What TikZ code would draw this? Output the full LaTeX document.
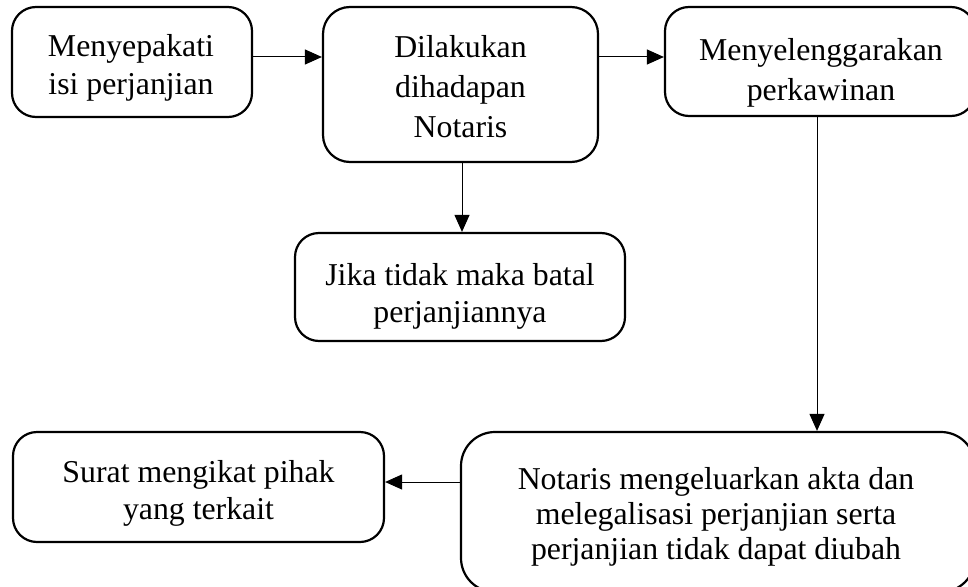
\documentclass[tikz,border=0pt]{standalone}
\usepackage{fontspec}
\setmainfont{Liberation Serif}
\usetikzlibrary{arrows.meta,calc}
\begin{document}
\begin{tikzpicture}[x=1pt,y=-1pt,
  box/.style={draw,line width=2.2pt,rounded corners=24pt,inner sep=0pt},
  txt/.style={align=center,inner sep=0pt,font=\fontsize{31.8}{#1}\selectfont},
  txt/.default=38,
  arr/.style={line width=1pt,-{Triangle[length=17pt,width=15pt]}}]
\useasboundingbox (0,0) rectangle (968,586);
\clip (0,0) rectangle (968,586);
\fill[white] (0,0) rectangle (968,586);

% frames
\node[box,minimum width=240pt,minimum height=110pt] (b1) at (132,62) {};
\node[box,minimum width=275pt,minimum height=155pt,rounded corners=27pt] (b2) at (460.5,84.5) {};
\node[box,minimum width=310pt,minimum height=109pt] (b3) at (820,61.5) {};
\node[box,minimum width=330pt,minimum height=108pt] (b4) at (460,287) {};
\node[box,minimum width=514pt,minimum height=160pt,rounded corners=34pt] (b5) at (718,512) {};
\node[box,minimum width=371pt,minimum height=110pt] (b6) at (198.5,487) {};

% captions
\node[txt=38] (t1) at (131,68) {Menyepakati\\isi perjanjian};
\node[txt=40] (t2) at (460.5,87) {Dilakukan\\dihadapan\\Notaris};
\node[txt=40] (t3) at (821,73) {Menyelenggarakan\\perkawinan};
\node[txt=37] (t4) at (460,296) {Jika tidak maka batal\\perjanjiannya};
\node[txt=35] (t5) at (716,517) {Notaris mengeluarkan akta dan\\melegalisasi perjanjian serta\\perjanjian tidak dapat diubah};
\node[txt=37] (t6) at (198.5,493) {Surat mengikat pihak\\yang terkait};

% connectors
\draw[arr] ([yshift=5pt]b1.east) -- ([yshift=5pt]b1.east -| b2.west);
\draw[arr] ([yshift=27.5pt]b2.east) -- ([yshift=27.5pt]b2.east -| b3.west);
\draw[arr] ([xshift=1.5pt]b2.south) -- ([xshift=1.5pt]b2.south |- b4.north);
\draw[arr] ([xshift=-3pt]b3.south) -- ([xshift=-3pt]b3.south |- b5.north);
\draw[arr] ([yshift=30pt]b5.west) -- ([yshift=30pt]b5.west -| b6.east);
\end{tikzpicture}
\end{document}
